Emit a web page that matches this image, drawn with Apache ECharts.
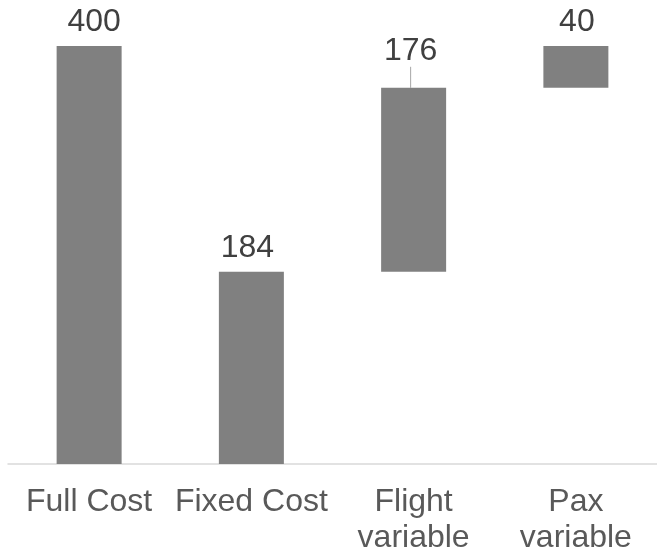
<!DOCTYPE html>
<html>
<head>
	<meta charset="utf-8">
	<title></title>
	<style type="text/css">
		html, body { margin: 0; padding: 0; background: #fff; }
		#main { width: 657px; height: 556px; }
	</style>
	<script src="https://cdn.jsdelivr.net/npm/echarts@6/dist/echarts.min.js"></script>
</head>
<body>
	<div id="main"></div>
	<script type="text/javascript">
		var categories = ['Full Cost', 'Fixed Cost', 'Flight\nvariable', 'Pax\nvariable'];
		var values = [400, 184, 176, 40];
		// invisible part under each floating bar
		var bases = [0, 0, 184, 360];

		var chart = echarts.init(document.getElementById('main'));

		var visible = values.map(function (v, i) {
			// only the 176 label is pulled up with a leader line
			return { value: v, labelLine: { show: i === 2 } };
		});

		// small nudges so the labels sit like in the original
		var nudgeX = [5, -4, -3, 1];

		var option = {
			animation: false,
			grid: { left: 8, top: 46, width: 654, bottom: 91, containLabel: false },
			xAxis: {
				type: 'category',
				data: categories,
				axisLine: { lineStyle: { color: '#d9d9d9', width: 1.5 } },
				axisTick: { show: false },
				axisLabel: {
					interval: 0,
					margin: 20,
					color: '#595959',
					fontFamily: 'Liberation Sans',
					fontSize: 32,
					lineHeight: 36
				}
			},
			yAxis: {
				type: 'value', min: 0, max: 400,
				show: false
			},
			series: [{
				type: 'bar',
				stack: 'w',
				data: bases,
				barWidth: 65,
				itemStyle: { color: 'transparent' },
				silent: true
			}, {
				type: 'bar',
				stack: 'w',
				data: visible,
				barWidth: 65,
				itemStyle: { color: '#808080' },
				label: {
					show: true,
					position: 'top',
					distance: 8,
					color: '#404040',
					fontFamily: 'Liberation Sans',
					fontSize: 32
				},
				labelLine: { lineStyle: { color: '#a6a6a6', width: 1 } },
				labelLayout: function (p) {
					return { dx: nudgeX[p.dataIndex], dy: p.dataIndex === 2 ? -13 : 0 };
				}
			}]
		};
		chart.setOption(option);
		window.onresize = chart.resize;
	</script>
</body>
</html>
